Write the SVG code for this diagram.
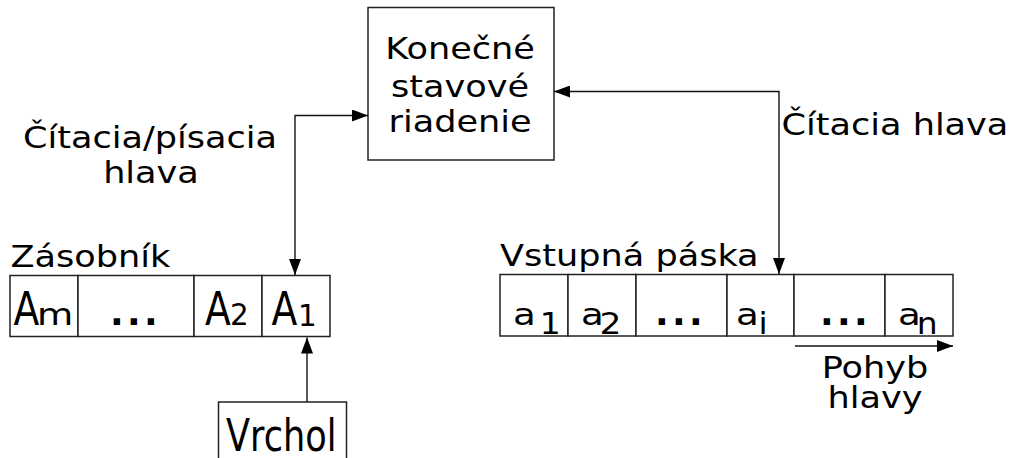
<svg xmlns="http://www.w3.org/2000/svg" width="1019" height="458" viewBox="0 0 1019 458">
  <defs>
    <style>
      .box { fill: #fff; stroke: #222; stroke-width: 1.5; }
      .wire { fill: none; stroke: #111; stroke-width: 1.4; }
      .t { font-family: "DejaVu Sans", Verdana, sans-serif; fill: #000; }
      .lab { font-size: 30px; }
      .big { font-size: 46px; }
      .sub { font-size: 31px; }
      .dots { font-size: 36px; font-weight: bold; letter-spacing: 3.3px; }
      .mid { text-anchor: middle; }
    </style>
    <marker id="ah" viewBox="0 0 16 12" refX="16" refY="6" markerWidth="16" markerHeight="12" markerUnits="userSpaceOnUse" orient="auto-start-reverse">
      <path d="M0,0 L16,6 L0,12 z" fill="#000"/>
    </marker>
  </defs>

  <rect width="1019" height="458" fill="#fff"/>

  <!-- finite state control -->
  <g id="control">
    <rect class="box" x="368" y="7.5" width="186" height="152.5"/>
    <text class="t lab mid" transform="translate(460,59) scale(1.17,1)">Konečné</text>
    <text class="t lab mid" transform="translate(460,97) scale(1.17,1)">stavové</text>
    <text class="t lab mid" transform="translate(460,132) scale(1.17,1)">riadenie</text>
  </g>

  <!-- head labels -->
  <g id="rw-head-label">
    <text class="t lab mid" transform="translate(150,148) scale(1.17,1)">Čítacia/písacia</text>
    <text class="t lab mid" transform="translate(151,183) scale(1.17,1)">hlava</text>
  </g>
  <g id="read-head-label">
    <text class="t lab" transform="translate(781.5,135) scale(1.17,1)">Čítacia hlava</text>
  </g>

  <!-- pushdown store -->
  <g id="stack">
    <text class="t lab" transform="translate(10.5,267) scale(1.17,1)">Zásobník</text>
    <rect class="box" x="10" y="275.5" width="68" height="61"/>
    <rect class="box" x="78" y="275.5" width="116" height="61"/>
    <rect class="box" x="194" y="275.5" width="68" height="61"/>
    <rect class="box" x="262" y="275.5" width="68" height="61"/>
    <text class="t big" transform="translate(13.5,325) scale(0.82,1)">A</text>
    <text class="t sub" transform="translate(37,325) scale(1.2,1)">m</text>
    <text class="t dots" transform="translate(110,325)">...</text>
    <text class="t big" transform="translate(205,325) scale(0.82,1)">A</text>
    <text class="t sub" transform="translate(230,325) scale(0.95,1)">2</text>
    <text class="t big" transform="translate(271.5,325) scale(0.82,1)">A</text>
    <text class="t sub" transform="translate(298,326) scale(0.95,1)">1</text>
  </g>

  <!-- top-of-stack pointer -->
  <g id="top">
    <rect class="box" x="218.5" y="402" width="128" height="70"/>
    <text class="t" style="font-size:45px" transform="translate(226,451) scale(0.78,1)">Vrchol</text>
  </g>

  <!-- input tape -->
  <g id="tape">
    <text class="t lab" transform="translate(500,266) scale(1.17,1)">Vstupná páska</text>
    <rect class="box" x="500" y="274.5" width="68" height="61.5"/>
    <rect class="box" x="568" y="274.5" width="68" height="61.5"/>
    <rect class="box" x="636" y="274.5" width="91" height="61.5"/>
    <rect class="box" x="727" y="274.5" width="67" height="61.5"/>
    <rect class="box" x="794" y="274.5" width="91" height="61.5"/>
    <rect class="box" x="885" y="274.5" width="68" height="61.5"/>
    <text class="t sub" transform="translate(513,324.5) scale(1.2,1)">a</text>
    <text class="t lab" transform="translate(539.7,333.5) scale(1.1,1)">1</text>
    <text class="t sub" transform="translate(581,324.5) scale(1.2,1)">a</text>
    <text class="t lab" transform="translate(599.4,333.5) scale(1.15,1)">2</text>
    <text class="t dots" transform="translate(655,324.5)">...</text>
    <text class="t sub" transform="translate(736,324.5) scale(1.2,1)">a</text>
    <text class="t lab" transform="translate(758.4,333.5) scale(1.1,1)">i</text>
    <text class="t dots" transform="translate(820,325)">...</text>
    <text class="t sub" transform="translate(898,324.5) scale(1.2,1)">a</text>
    <text class="t lab" transform="translate(916.7,334) scale(1.1,1)">n</text>
  </g>

  <!-- head movement -->
  <g id="movement">
    <text class="t lab mid" transform="translate(875,378) scale(1.17,1)">Pohyb</text>
    <text class="t lab mid" transform="translate(875,408) scale(1.17,1)">hlavy</text>
  </g>

  <g id="connectors">
    <path class="wire" d="M295,275 V115.5 H368" marker-start="url(#ah)" marker-end="url(#ah)"/>
    <path class="wire" d="M554,91.5 H779 V274" marker-start="url(#ah)" marker-end="url(#ah)"/>
    <path class="wire" d="M307,402 V337.5" marker-end="url(#ah)"/>
    <path class="wire" d="M795,346 H953" marker-end="url(#ah)"/>
  </g>
</svg>
